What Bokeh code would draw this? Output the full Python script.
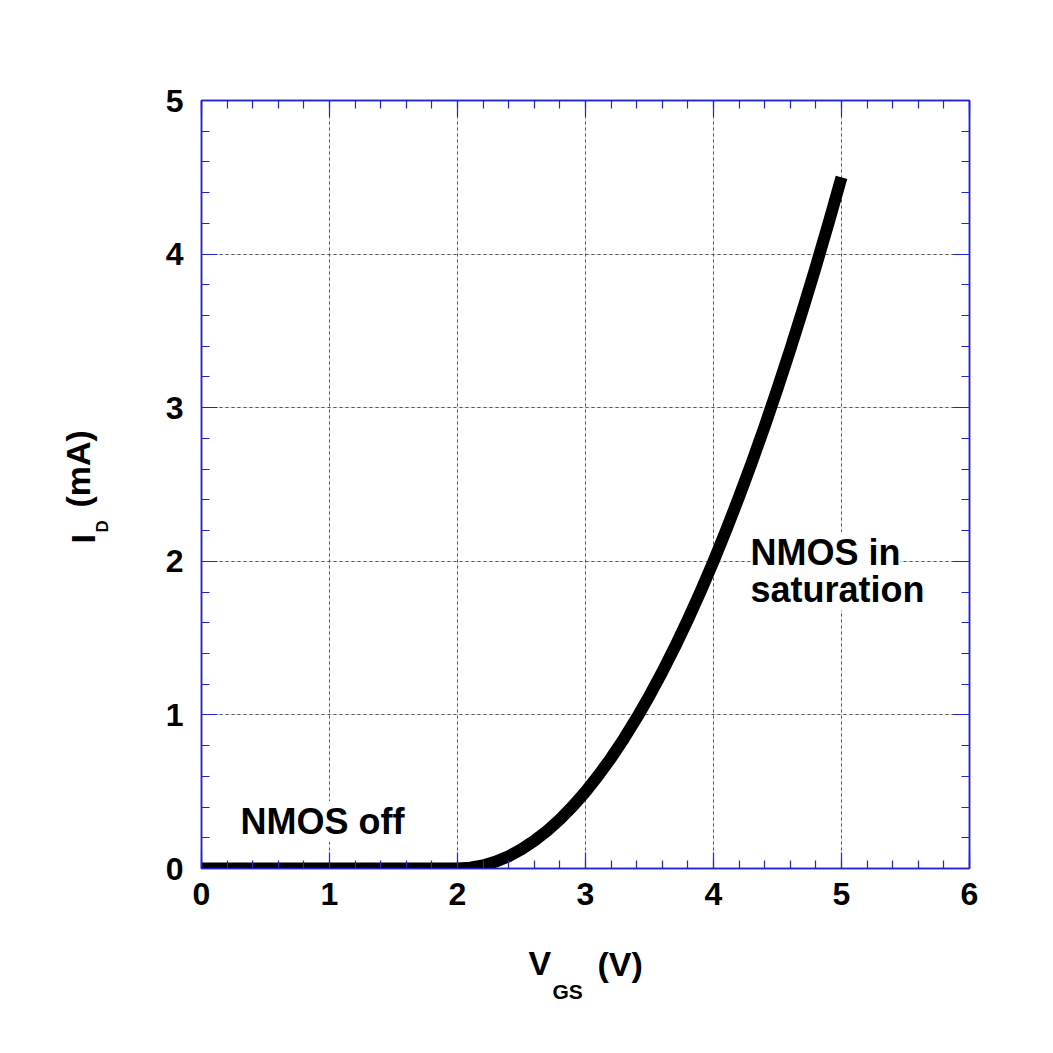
import numpy as np
from bokeh.plotting import figure
from bokeh.models import Range1d, LinearAxis, SingleIntervalTicker, Label, ColumnDataSource, Grid
from bokeh.embed import file_html
from bokeh.resources import INLINE

# Data
vgs = [0.0, 0.5, 1.0, 1.5, 2.0, 2.1, 2.2, 2.3, 2.4, 2.5, 2.6, 2.7, 2.8, 2.9, 3.0,
       3.1, 3.2, 3.3, 3.4, 3.5, 3.6, 3.7, 3.8, 3.9, 4.0,
       4.1, 4.2, 4.3, 4.4, 4.5, 4.6, 4.7, 4.8, 4.9, 5.0]
id_ma = [0.0, 0.0, 0.0, 0.0, 0.0, 0.005, 0.02, 0.045, 0.08, 0.125, 0.18, 0.245, 0.32, 0.405, 0.5,
         0.605, 0.72, 0.845, 0.98, 1.125, 1.28, 1.445, 1.62, 1.805, 2.0,
         2.205, 2.42, 2.645, 2.88, 3.125, 3.38, 3.645, 3.92, 4.205, 4.5]
x_ticks = [0, 1, 2, 3, 4, 5, 6]
y_ticks = [0, 1, 2, 3, 4, 5]

BLUE = "#2424cc"
FONT = "Liberation Sans"

p = figure(frame_width=768, frame_height=768,
           x_range=Range1d(0, 6), y_range=Range1d(0, 5),
           output_backend="svg", toolbar_location=None,
           x_axis_location=None, y_axis_location=None,
           min_border_left=201, min_border_right=76,
           min_border_top=100, min_border_bottom=177)

p.background_fill_color = "white"
p.border_fill_color = "white"
p.outline_line_color = BLUE
p.outline_line_width = 1.5


def make_axis(show_labels):
    ax = LinearAxis(ticker=SingleIntervalTicker(interval=1, num_minor_ticks=5))
    ax.axis_line_color = BLUE
    ax.axis_line_width = 1.5
    ax.major_tick_line_color = BLUE
    ax.minor_tick_line_color = BLUE
    ax.major_tick_in = 16
    ax.major_tick_out = 0
    ax.minor_tick_in = 8
    ax.minor_tick_out = 0
    ax.major_tick_line_width = 1.2
    ax.minor_tick_line_width = 1.2
    if show_labels:
        ax.major_label_text_font = FONT
        ax.major_label_text_font_style = "bold"
        ax.major_label_text_font_size = "32px"
        ax.major_label_text_color = "black"
    else:
        ax.major_label_text_font_size = "0px"
        ax.major_label_text_alpha = 0
        ax.major_label_standoff = 0
    return ax


xb = make_axis(True)
xb.major_label_standoff = 14
yl = make_axis(True)
yl.major_label_standoff = 18
xa = make_axis(False)
yr = make_axis(False)
p.add_layout(xb, "below")
p.add_layout(yl, "left")
p.add_layout(xa, "above")
p.add_layout(yr, "right")

gx = Grid(dimension=0, ticker=xb.ticker)
gy = Grid(dimension=1, ticker=yl.ticker)
for g in (gx, gy):
    g.grid_line_color = "#555555"
    g.grid_line_dash = "3 3"
    g.grid_line_width = 1
    p.add_layout(g)

src = ColumnDataSource(dict(x=vgs, y=id_ma))
p.line("x", "y", source=src, line_color="black", line_width=12,
       line_join="round", line_cap="butt")


def lab(x, y, text, size, angle=0.0, bg=None, units="data", place="center"):
    l = Label(x=x, y=y, text=text, text_font=FONT, text_font_style="bold",
              text_font_size=size, text_color="black", angle=angle,
              text_align="left", text_baseline="alphabetic",
              x_units=units, y_units=units)
    if bg:
        l.background_fill_color = bg
        l.background_fill_alpha = 1.0
    if place == "center":
        p.add_layout(l)
    else:
        p.add_layout(l, place)


# annotations inside plot
lab(0.305, 0.306, "NMOS off", "36px", bg="white")
lab(4.289, 2.058, "NMOS in", "36px", bg="white")
lab(4.289, 1.817, "saturation", "36px", bg="white")

# x-axis label V_GS (V), in the panels below the frame
lab(327, -17, "V", "34px", units="screen", place="below")
lab(351, -23, "GS", "21px", units="screen", place="below")
lab(396, 43, "(V)", "34px", units="screen", place="below")

# y-axis label I_D (mA), in the panels left of the frame
ang = np.pi / 2
lab(-42, 325, "I", "34px", angle=ang, units="screen", place="left")
lab(-3, 336, "D", "17px", angle=ang, units="screen", place="left")
lab(10, 361, "(mA)", "34px", angle=ang, units="screen", place="left")

open("out.html", "w").write(file_html(p, INLINE))
